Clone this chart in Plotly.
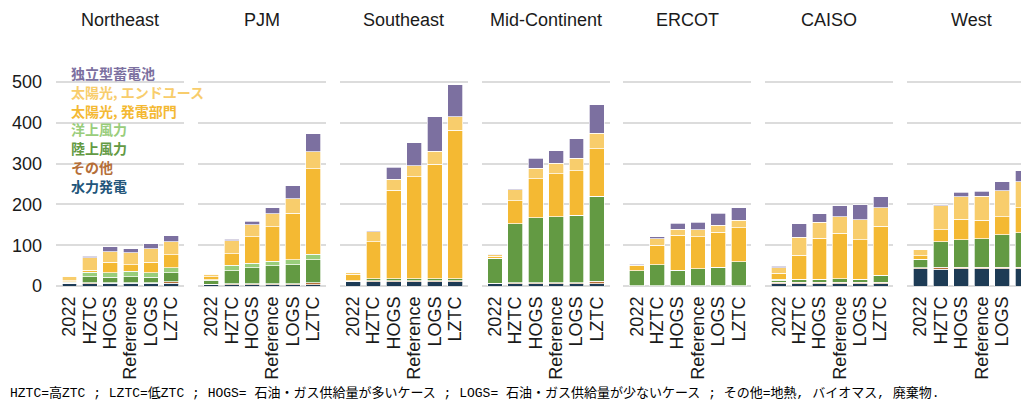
import plotly.graph_objects as go

regions = ["Northeast", "PJM", "Southeast", "Mid-Continent", "ERCOT", "CAISO", "West"]
scenarios = ["2022", "HZTC", "HOGS", "Reference", "LOGS", "LZTC"]

# values per region (rows) and scenario (columns), GW
hydro = [
    [5.7, 6.0, 6.5, 6.5, 6.5, 6.5],
    [3.0, 3.3, 3.3, 3.3, 3.3, 2.5],
    [10.6, 10.6, 10.6, 10.6, 10.6, 10.6],
    [5.7, 5.7, 5.7, 5.7, 5.7, 5.7],
    [0.5, 0.5, 0.5, 0.5, 0.5, 0.5],
    [5.7, 5.7, 5.7, 5.7, 5.7, 5.7],
    [41.7, 40.9, 42.5, 42.5, 42.5, 42.5],
]
other = [
    [0.8, 1.5, 1.5, 1.5, 1.5, 4.5],
    [1.5, 2.5, 2.5, 2.5, 2.5, 4.9],
    [1.0, 2.5, 2.5, 2.5, 2.5, 2.5],
    [1.5, 2.5, 2.5, 2.5, 2.5, 6.5],
    [0.5, 0.5, 0.5, 0.5, 0.5, 0.5],
    [3.3, 4.0, 4.0, 4.0, 4.0, 4.0],
    [3.3, 4.9, 4.0, 4.0, 4.0, 4.0],
]
onshore = [
    [2.5, 14.7, 13.0, 14.7, 13.0, 21.0],
    [9.0, 32.0, 39.0, 44.0, 46.6, 57.0],
    [1.0, 4.9, 4.9, 4.9, 4.9, 4.9],
    [61.3, 144.0, 158.5, 161.8, 165.0, 208.0],
    [37.0, 51.0, 38.0, 41.0, 44.5, 58.0],
    [5.7, 7.4, 7.4, 8.2, 7.4, 17.2],
    [18.8, 63.0, 67.0, 69.4, 79.2, 84.0],
]
offshore = [
    [1.5, 11.4, 11.5, 13.0, 11.4, 13.0],
    [1.5, 13.0, 11.4, 10.6, 11.4, 13.0],
    [0, 0, 0, 0, 0, 0],
    [0, 0, 0, 0, 0, 0],
    [0, 0, 0, 0, 0, 0],
    [1.5, 0, 0, 0, 0, 0],
    [1.6, 0, 0, 0, 0, 0],
]
solar_gen = [
    [2.5, 5.0, 26.0, 16.3, 26.0, 31.0],
    [7.4, 28.6, 64.5, 85.0, 115.0, 210.0],
    [16.0, 90.0, 217.0, 250.0, 281.0, 364.0],
    [4.0, 57.0, 96.4, 105.4, 109.5, 116.0],
    [12.3, 47.4, 85.0, 79.2, 85.8, 84.2],
    [15.5, 58.8, 100.5, 112.0, 96.4, 119.3],
    [9.0, 29.4, 50.7, 45.8, 44.0, 61.3],
]
solar_end = [
    [11.0, 30.5, 26.0, 29.4, 32.7, 32.7],
    [6.5, 31.9, 29.4, 31.9, 35.0, 41.7],
    [4.9, 25.3, 27.0, 27.0, 31.0, 32.7],
    [4.0, 27.0, 26.0, 25.3, 31.0, 37.6],
    [1.5, 16.3, 15.5, 16.3, 17.2, 18.0],
    [13.0, 44.0, 39.2, 40.0, 49.0, 45.0],
    [13.9, 58.0, 54.0, 58.8, 63.7, 63.7],
]
storage = [
    [0.5, 3.3, 11.5, 9.8, 13.0, 14.7],
    [0.8, 3.3, 9.0, 13.9, 31.9, 44.0],
    [0.5, 1.6, 29.4, 56.4, 85.0, 78.4],
    [1.6, 2.5, 23.7, 31.0, 47.4, 70.0],
    [2.5, 4.9, 14.7, 18.8, 30.2, 31.0],
    [4.0, 32.7, 20.4, 27.0, 36.8, 27.0],
    [0.8, 2.5, 11.4, 12.3, 22.0, 27.0],
]

series_names = ["水力発電", "その他", "陸上風力", "洋上風力", "太陽光, 発電部門", "太陽光, エンドユース", "独立型蓄電池"]
series_data = [hydro, other, onshore, offshore, solar_gen, solar_end, storage]
bar_colors = ["#1d3b55", "#b56e38", "#639a43", "#99cd7b", "#f4b933", "#f8cd6c", "#7c70a0"]
text_colors = ["#22557a", "#b56e38", "#639a43", "#99cd7b", "#f4b933", "#f8cd6c", "#7c70a0"]

W, H = 1021, 401
panel_left0 = 56.0
panel_pitch = 141.85
panel_w = 128.0
x_lo, x_hi = -0.66, 5.62
y_zero_px, y_top_px = 286.0, 60.0
px_per_unit = 0.408
y_max = (y_zero_px - y_top_px) / px_per_unit

fig = go.Figure()
font_main = "Liberation Sans, Arial, sans-serif"

for r, reg in enumerate(regions):
    sfx = "" if r == 0 else str(r + 1)
    for s, name in enumerate(series_names):
        fig.add_trace(go.Bar(
            x=scenarios, y=series_data[s][r], name=name,
            marker=dict(color=bar_colors[s], line=dict(color="white", width=0.7)),
            xaxis="x" + sfx, yaxis="y" + sfx, showlegend=False,
        ))
    left = panel_left0 + panel_pitch * r
    right = left + panel_w
    rng_hi = x_hi
    if right > W:
        rng_hi = x_lo + (x_hi - x_lo) * (W - left) / panel_w
        right = W
    fig.layout["xaxis" + sfx] = dict(
        domain=[left / W, right / W], range=[x_lo, rng_hi], anchor="y" + sfx,
        tickangle=-90, tickfont=dict(size=18, color="#1a1a1a", family=font_main),
        tickmode="array", tickvals=scenarios, ticktext=scenarios,
        ticklabelstandoff=6,
        showgrid=False, zeroline=False, showline=False, ticks="", fixedrange=True,
        type="category", automargin=False,
    )
    fig.layout["yaxis" + sfx] = dict(
        domain=[1 - y_zero_px / H, 1 - y_top_px / H], range=[0, y_max], anchor="x" + sfx,
        showgrid=True, gridcolor="#dcdcdc", gridwidth=1.5, zeroline=True,
        zerolinecolor="#dcdcdc", zerolinewidth=1.5,
        tickvals=[0, 100, 200, 300, 400, 500],
        showticklabels=(r == 0), tickfont=dict(size=18, color="#1a1a1a", family=font_main),
        ticklabelstandoff=13, fixedrange=True, automargin=False,
    )
    fig.add_annotation(
        x=(left + panel_w / 2) / W, y=1 - 20 / H, xref="paper", yref="paper",
        text=reg, showarrow=False, font=dict(size=18, color="#1a1a1a", family=font_main),
        xanchor="center", yanchor="middle",
    )

legend_y = [186, 167, 148, 129, 111, 92, 73]
for s, name in enumerate(series_names):
    fig.add_annotation(
        x=70 / W, y=1 - legend_y[s] / H, xref="paper", yref="paper",
        text="<b>" + name + "</b>", showarrow=False, xanchor="left", yanchor="middle",
        font=dict(size=14, color=text_colors[s], family="Noto Sans CJK JP"),
        borderpad=0,
    )

footnote = ("HZTC=高ZTC ; LZTC=低ZTC ; HOGS= 石油・ガス供給量が多いケース ; "
            "LOGS= 石油・ガス供給量が少ないケース ; その他=地熱, バイオマス, 廃棄物.")
fig.add_annotation(
    x=8 / W, y=1 - 393 / H, xref="paper", yref="paper", text=footnote, showarrow=False,
    xanchor="left", yanchor="middle",
    font=dict(size=13, color="#000", family="Liberation Mono, Noto Sans CJK JP"),
)

fig.update_layout(
    width=W, height=H, barmode="stack", bargap=0.27,
    margin=dict(l=0, r=0, t=0, b=0, autoexpand=False),
    plot_bgcolor="white", paper_bgcolor="white",
)

fig.write_html(
    "out.html",
    config={"displayModeBar": False},
    post_script=(
        "document.documentElement.style.margin='0';"
        "document.documentElement.style.height='401px';"
        "document.documentElement.style.overflow='hidden';"
        "document.body.style.margin='0';document.body.style.padding='0';"
        "document.body.style.height='401px';document.body.style.overflow='hidden';"
    ),
)
